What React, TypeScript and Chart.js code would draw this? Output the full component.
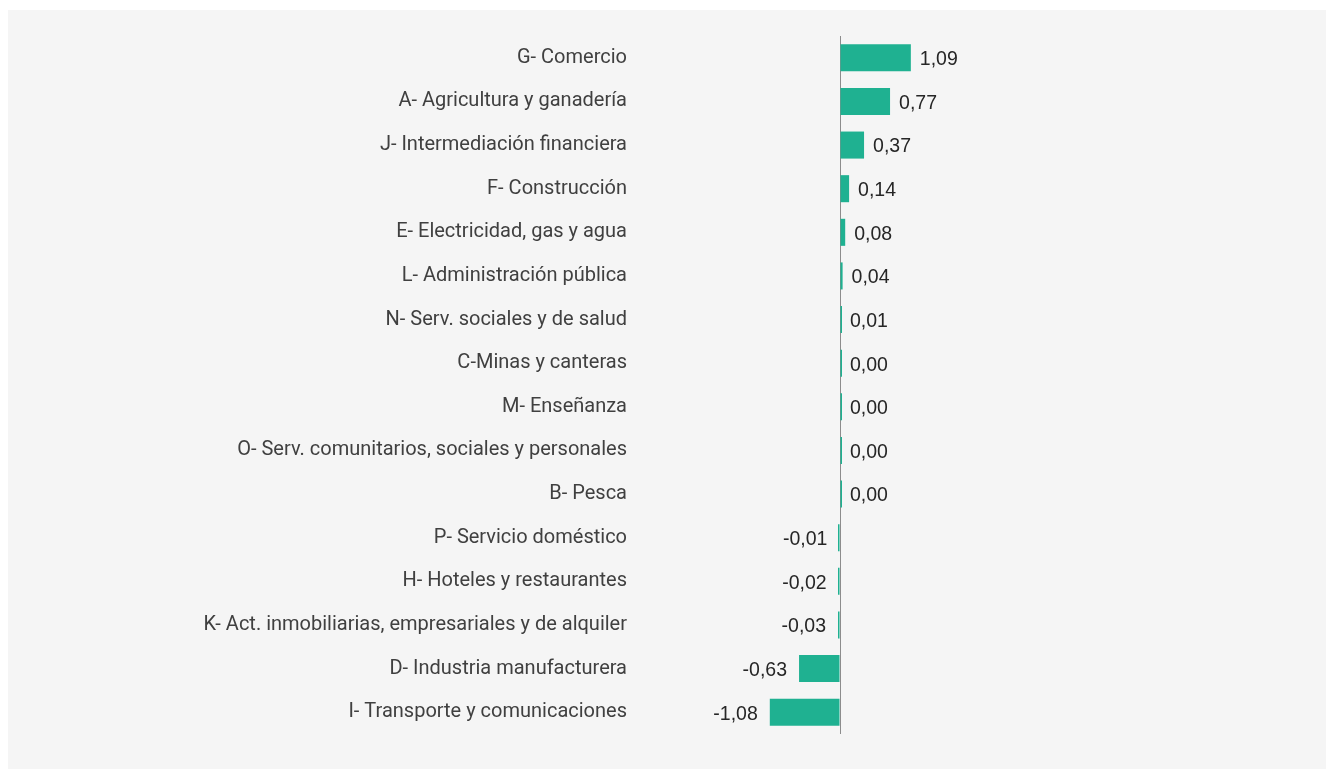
import React, { useEffect, useRef } from "react";
import { Chart, registerables } from "chart.js";

Chart.register(...registerables);

const categories: string[] = [
  "G- Comercio",
  "A- Agricultura y ganadería",
  "J- Intermediación financiera",
  "F- Construcción",
  "E- Electricidad, gas y agua",
  "L- Administración pública",
  "N- Serv. sociales y de salud",
  "C-Minas y canteras",
  "M- Enseñanza",
  "O- Serv. comunitarios, sociales y personales",
  "B- Pesca",
  "P- Servicio doméstico",
  "H- Hoteles y restaurantes",
  "K- Act. inmobiliarias, empresariales y de alquiler",
  "D- Industria manufacturera",
  "I- Transporte y comunicaciones",
];

const values: number[] = [
  1.09, 0.77, 0.37, 0.14, 0.08, 0.04, 0.01, 0.004, 0.003, 0.002, 0.001, -0.01, -0.02, -0.03, -0.63, -1.08,
];

const axisMin = -3;
const axisMax = 7;

const formatValue = (v: number) => v.toFixed(2).replace(".", ",");

const valueLabelPlugin = {
  id: "valueLabels",
  afterDatasetsDraw(chart: any) {
    const ctx = chart.ctx;
    const meta = chart.getDatasetMeta(0);
    const xScale = chart.scales.x;
    ctx.save();
    ctx.font = '19.5px "Liberation Sans", Arial, sans-serif';
    ctx.fillStyle = "#262626";
    ctx.textBaseline = "middle";
    meta.data.forEach((bar: any, i: number) => {
      const v = values[i];
      const px = xScale.getPixelForValue(v);
      if (v >= 0) {
        ctx.textAlign = "left";
        ctx.fillText(formatValue(v), Math.max(px, xScale.getPixelForValue(0) + 1) + 9, bar.y + 2);
      } else {
        ctx.textAlign = "right";
        ctx.fillText(formatValue(v), px - 12, bar.y + 2);
      }
    });
    ctx.restore();
  },
};

export default function App() {
  const canvasRef = useRef<HTMLCanvasElement | null>(null);

  useEffect(() => {
    if (!canvasRef.current) return;
    const chart = new Chart(canvasRef.current, {
      type: "bar",
      data: {
        labels: categories,
        datasets: [
          {
            data: values,
            backgroundColor: "#1FB191",
            borderWidth: 0,
            categoryPercentage: 1,
            barPercentage: 0.62,
            minBarLength: 2,
          },
        ],
      },
      options: {
        indexAxis: "y",
        animation: false,
        responsive: true,
        maintainAspectRatio: false,
        layout: { padding: { top: 26, bottom: 35, left: 0, right: 31 } },
        plugins: {
          legend: { display: false },
          tooltip: { enabled: false },
        },
        scales: {
          x: {
            min: axisMin,
            max: axisMax,
            ticks: { display: false },
            border: { display: false },
            grid: {
              drawTicks: false,
              color: (c: any) => (c.tick && c.tick.value === 0 ? "#8c8c8c" : "rgba(0,0,0,0)"),
              lineWidth: 1,
            },
          },
          y: {
            border: { display: false },
            grid: { display: false, drawTicks: false },
            ticks: {
              padding: 18,
              color: "#404040",
              font: { family: "Roboto", size: 20 },
            },
            afterFit: (scale: any) => {
              scale.width = 637;
              scale.paddingTop = 0;
              scale.paddingBottom = 0;
            },
          },
        },
      },
      plugins: [valueLabelPlugin],
    });
    return () => chart.destroy();
  }, []);

  return (
    <div
      style={{
        position: "fixed",
        left: 8,
        top: 10,
        width: 1318,
        height: 759,
        background: "#f5f5f5",
      }}
    >
      <div style={{ position: "relative", width: "100%", height: "100%" }}>
        <canvas ref={canvasRef} />
      </div>
    </div>
  );
}
